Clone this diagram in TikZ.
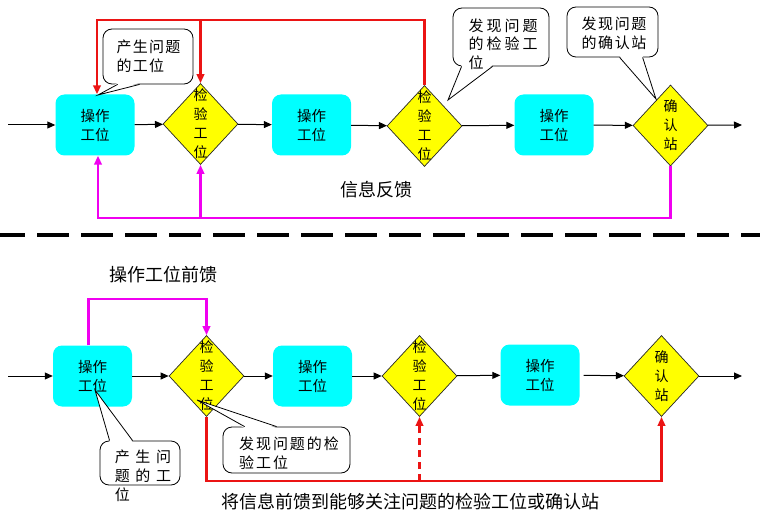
\documentclass[tikz,border=0pt]{standalone}
\usepackage{fontspec}
\setmainfont{Noto Sans CJK SC}
\usetikzlibrary{shapes.geometric,arrows.meta,calc}
\definecolor{opcyan}{RGB}{0,255,255}
\definecolor{chkyellow}{RGB}{255,255,0}
\definecolor{fbred}{RGB}{235,20,20}
\definecolor{fbmagenta}{RGB}{240,0,240}

\begin{document}
\begin{tikzpicture}[x=1pt, y=-1pt]
\tikzstyle{opbox} = [rectangle, fill=opcyan, rounded corners=9pt, minimum width=79pt, minimum height=61pt, align=center, font=\fontsize{14.5}{19}\selectfont]
\tikzstyle{checkbox} = [diamond, draw=black!85, line width=0.7pt, fill=chkyellow, minimum width=75pt, minimum height=81pt, inner sep=0pt]
\tikzstyle{chktext} = [align=center, inner sep=0pt, font=\fontsize{14}{19}\selectfont]
\tikzstyle{arrow} = [line width=1pt, -{Triangle[length=8pt,width=7pt]}]
\tikzstyle{redline} = [fbred, line width=2.2pt, -{Triangle[length=9pt,width=7.5pt]}]
\tikzstyle{magline} = [fbmagenta, line width=2.2pt, -{Triangle[length=9pt,width=7.5pt]}]
\tikzstyle{bubble} = [draw, line width=0.8pt, fill=white, rounded corners=9pt]
\tikzstyle{bubbletext} = [align=left, inner sep=0pt]
\tikzstyle{labeltext} = [inner sep=0pt, font=\fontsize{18}{22}\selectfont]

\useasboundingbox (0,0) rectangle (760,513);

% feedback row
\node [opbox] (opA) at (95,125) {操作\\工位};
\node [checkbox, label={[chktext]center:检\\验\\工\\位}] (chkA) at (200.5,124) {};
\node [opbox] (opB) at (311.5,125) {操作\\工位};
\node [checkbox, label={[chktext]center:检\\验\\工\\位}] (chkB) at (424.5,126) {};
\node [opbox] (opC) at (554,125) {操作\\工位};
\node [checkbox, label={[chktext]center:确\\认\\站}] (cfmA) at (670.5,125.5) {};

\coordinate (inA) at (8,125);
\coordinate (outA) at (742,125);
\draw [arrow] (inA) -- (opA);
\draw [arrow] (opA) -- (chkA);
\draw [arrow] (chkA) -- (opB);
\draw [arrow] (opB) -- (chkB);
\draw [arrow] (chkB) -- (opC);
\draw [arrow] (opC) -- (cfmA);
\draw [arrow] (cfmA) -- (outA);

\coordinate (redtop) at (0,20);
\draw [redline] (chkB.north) -- (chkB.north |- redtop) -| ([xshift=2pt]opA.north);
\draw [redline] (chkA.north |- redtop) -- (chkA.north);

\coordinate (magbot) at (0,218);
\draw [magline] (cfmA.south) -- (cfmA.south |- magbot) -| ([xshift=3pt]opA.south);
\draw [magline] (chkA.south |- magbot) -- (chkA.south);

\node [labeltext] (fbtxt) at (376,190) {信息反馈};

% callouts of the feedback row
\node [bubble, minimum width=90pt, minimum height=55pt] (bubA) at (148,56.5) {};
\coordinate (tipA) at (98,95);
\fill [white] ($(bubA.south west)+(15,-1.5)$) -- (tipA) -- ($(bubA.south west)+(37,-1.5)$) -- cycle;
\draw [line width=0.8pt] ($(bubA.south west)+(15,0)$) -- (tipA) -- ($(bubA.south west)+(37,0)$);
\node [bubbletext, font=\fontsize{15}{18.5}\selectfont\addfontfeatures{LetterSpace=8}] (bubAtxt) at (148.5,56.5) {产生问题\\的工位};

\node [bubble, minimum width=96pt, minimum height=58pt] (bubB) at (501,37) {};
\coordinate (tipB) at (448,100);
\fill [white] ($(bubB.south west)+(9,-1.5)$) -- (tipB) -- ($(bubB.south west)+(40,-1.5)$) -- cycle;
\draw [line width=0.8pt] ($(bubB.south west)+(9,0)$) -- (tipB) -- ($(bubB.south west)+(40,0)$);
\node [bubbletext, font=\fontsize{15}{18.5}\selectfont\addfontfeatures{LetterSpace=20}] (bubBtxt) at (503,44) {发现问题\\的检验工\\位};

\node [bubble, minimum width=91pt, minimum height=50pt] (bubC) at (612.5,32) {};
\coordinate (tipC) at (656,99);
\fill [white] ($(bubC.south west)+(53,-1.5)$) -- (tipC) -- ($(bubC.south west)+(76,-1.5)$) -- cycle;
\draw [line width=0.8pt] ($(bubC.south west)+(53,0)$) -- (tipC) -- ($(bubC.south west)+(76,0)$);
\node [bubbletext, font=\fontsize{15}{18.5}\selectfont\addfontfeatures{LetterSpace=11}] (bubCtxt) at (614,33.5) {发现问题\\的确认站};

% separator
\coordinate (sepL) at (0,235);
\coordinate (sepR) at (760,235);
\draw [line width=4pt, dash pattern=on 32pt off 12pt, dash phase=7pt] (sepL) -- (sepR);

% feedforward row
\node [labeltext] (fftxt) at (163,275) {操作工位前馈};

\node [opbox] (opD) at (92.5,376) {操作\\工位};
\node [checkbox, label={[chktext]center:检\\验\\工\\位}] (chkD) at (206.5,376) {};
\node [opbox] (opE) at (312.5,376) {操作\\工位};
\node [checkbox, label={[chktext]center:检\\验\\工\\位}] (chkE) at (419.5,376) {};
\node [opbox] (opF) at (540,375) {操作\\工位};
\node [checkbox, label={[chktext]center:确\\认\\站}] (cfmB) at (661.5,376) {};

\coordinate (inD) at (8,376);
\coordinate (outD) at (742,376);
\draw [arrow] (inD) -- (opD);
\draw [arrow] (opD) -- (chkD);
\draw [arrow] (chkD) -- (opE);
\draw [arrow] (opE) -- (chkE);
\draw [arrow] (chkE) -- (opF);
\draw [arrow, shorten <=4pt] (opF) -- (cfmB);
\draw [arrow] (cfmB) -- (outD);

\coordinate (magtop) at (0,299);
\draw [magline] ([xshift=-4pt]opD.north) |- (chkD.north |- magtop) -- (chkD.north);

\coordinate (redbot) at (0,481);
\draw [redline] (chkD.south) -- (chkD.south |- redbot) -| (cfmB.south);
\draw [redline, dash pattern=on 7pt off 5pt] (chkE.south |- redbot) -- (chkE.south);

\node [labeltext] (fwtxt) at (410,502) {将信息前馈到能够关注问题的检验工位或确认站};

% callouts of the feedforward row
\node [bubble, minimum width=80pt, minimum height=44pt] (bubD) at (140,463) {};
\coordinate (tipD) at (95,390);
\fill [white] ($(bubD.north west)+(10,1.5)$) -- (tipD) -- ($(bubD.north west)+(33,1.5)$) -- cycle;
\draw [line width=0.8pt] ($(bubD.north west)+(10,0)$) -- (tipD) -- ($(bubD.north west)+(33,0)$);
\node [bubbletext, font=\fontsize{15}{19}\selectfont\addfontfeatures{LetterSpace=37}] (bubDtxt) at (143,476) {产生问\\题的工\\位};

\node [bubble, minimum width=127pt, minimum height=46pt] (bubE) at (286.5,450) {};
\coordinate (tipE) at (197,400);
\fill [white] ($(bubE.north west)+(22,1.5)$) -- (tipE) -- ($(bubE.north west)+(54,1.5)$) -- cycle;
\draw [line width=0.8pt] ($(bubE.north west)+(22,0)$) -- (tipE) -- ($(bubE.north west)+(54,0)$);
\node [bubbletext, font=\fontsize{15}{18.5}\selectfont\addfontfeatures{LetterSpace=13}] (bubEtxt) at (289,453) {发现问题的检\\验工位};
\end{tikzpicture}
\end{document}
